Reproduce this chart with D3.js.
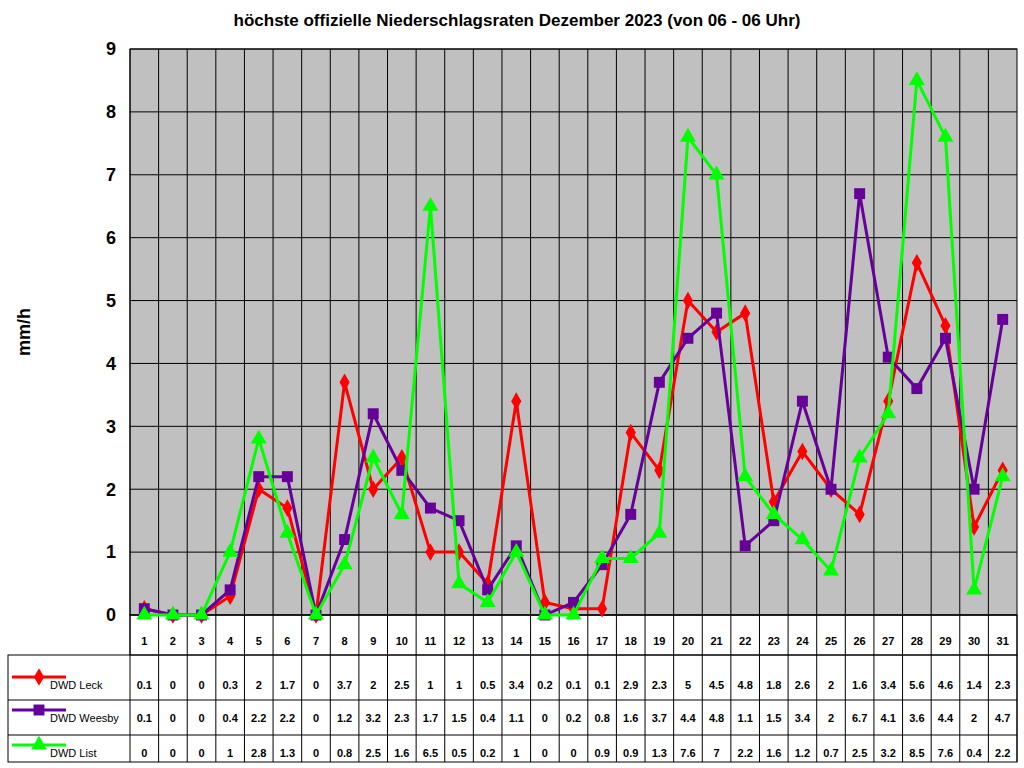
<!DOCTYPE html>
<html><head><meta charset="utf-8">
<script src="https://cdn.jsdelivr.net/npm/d3@7"></script>
<style>body{margin:0;background:#fff}text{font-family:Arial,"Liberation Sans",sans-serif}</style>
</head><body><svg id="chart" width="1024" height="768"></svg>
<script>
const days = d3.range(1, 32);
const leck = [0.1,0,0,0.3,2,1.7,0,3.7,2,2.5,1,1,0.5,3.4,0.2,0.1,0.1,2.9,2.3,5,4.5,4.8,1.8,2.6,2,1.6,3.4,5.6,4.6,1.4,2.3];
const weesby = [0.1,0,0,0.4,2.2,2.2,0,1.2,3.2,2.3,1.7,1.5,0.4,1.1,0,0.2,0.8,1.6,3.7,4.4,4.8,1.1,1.5,3.4,2,6.7,4.1,3.6,4.4,2,4.7];
const list = [0,0,0,1,2.8,1.3,0,0.8,2.5,1.6,6.5,0.5,0.2,1,0,0,0.9,0.9,1.3,7.6,7,2.2,1.6,1.2,0.7,2.5,3.2,8.5,7.6,0.4,2.2];
const yTicks = d3.range(0, 10);

const series = [
  {name: "DWD Leck", values: leck, color: "#ff0000", sym: d3.symbolDiamond, size: 90},
  {name: "DWD Weesby", values: weesby, color: "#660099", sym: d3.symbolSquare, size: 120},
  {name: "DWD List", values: list, color: "#00ff00", sym: d3.symbolTriangle, size: 110}
];

const svg = d3.select("#chart");
const L = 130, R = 1017, T = 49, B = 615;
const x = d3.scaleBand().domain(days).range([L, R]);
const y = d3.scaleLinear().domain([0, 9]).range([B, T]);

svg.append("text").attr("x", 517).attr("y", 26).attr("text-anchor", "middle")
  .attr("font-size", 17).attr("font-weight", "bold")
  .text("höchste offizielle Niederschlagsraten Dezember 2023 (von 06 - 06 Uhr)");

svg.append("rect").attr("x", L).attr("y", T).attr("width", R - L).attr("height", B - T)
  .attr("fill", "#c0c0c0").attr("stroke", "#000");

// grid
svg.append("g").selectAll("line").data(yTicks).enter().append("line")
  .attr("x1", L).attr("x2", R).attr("y1", d => y(d)).attr("y2", d => y(d)).attr("stroke", "#000");
svg.append("g").selectAll("line").data(days).enter().append("line")
  .attr("x1", d => x(d)).attr("x2", d => x(d)).attr("y1", T).attr("y2", B).attr("stroke", "#000");

svg.append("g").selectAll("text").data(yTicks).enter().append("text")
  .attr("x", 116).attr("y", d => y(d)).attr("dy", "0.35em").attr("text-anchor", "end")
  .attr("font-size", 18).attr("font-weight", "bold").text(d => d);

svg.append("text").attr("transform", "translate(30,332) rotate(-90)").attr("text-anchor", "middle")
  .attr("font-size", 18).attr("font-weight", "bold").text("mm/h");

// table
const tg = svg.append("g");
tg.append("rect").attr("x", L).attr("y", 615).attr("width", R - L).attr("height", 40).attr("fill", "none").attr("stroke", "#000");
tg.append("rect").attr("x", 8).attr("y", 655).attr("width", R - 8).attr("height", 107).attr("fill", "none").attr("stroke", "#000");
[700, 735].forEach(v => tg.append("line").attr("x1", 8).attr("x2", R).attr("y1", v).attr("y2", v).attr("stroke", "#000"));
tg.selectAll(".vl").data(days.concat([32])).enter().append("line")
  .attr("x1", d => d === 32 ? R : x(d)).attr("x2", d => d === 32 ? R : x(d))
  .attr("y1", 615).attr("y2", 762).attr("stroke", "#000");
tg.selectAll(".dn").data(days).enter().append("text")
  .attr("x", d => x(d) + x.bandwidth() / 2).attr("y", 645).attr("text-anchor", "middle")
  .attr("font-size", 11).attr("font-weight", "bold").text(d => d);

const textY = [689, 722, 757];
series.forEach((s, i) => {
  tg.selectAll(".v" + i).data(s.values).enter().append("text")
    .attr("x", (d, j) => x(days[j]) + x.bandwidth() / 2).attr("y", textY[i]).attr("text-anchor", "middle")
    .attr("font-size", 11).attr("font-weight", "bold").text(d => d);
  const ly = textY[i] - 12;
  tg.append("line").attr("x1", 12).attr("x2", 66).attr("y1", ly).attr("y2", ly)
    .attr("stroke", s.color).attr("stroke-width", 3);
  tg.append("path").attr("d", d3.symbol(s.sym, s.size)).attr("transform", `translate(39,${ly})`).attr("fill", s.color);
  tg.append("text").attr("x", 50).attr("y", textY[i]).attr("font-size", 11).text(s.name);
});

// lines
const line = d3.line().x((d, j) => x(days[j]) + x.bandwidth() / 2).y(d => y(d));
series.forEach(s => {
  svg.append("path").datum(s.values).attr("d", line).attr("fill", "none")
    .attr("stroke", s.color).attr("stroke-width", 3);
  svg.append("g").selectAll("path").data(s.values).enter().append("path")
    .attr("d", d3.symbol(s.sym, s.size))
    .attr("transform", (d, j) => `translate(${x(days[j]) + x.bandwidth() / 2},${y(d)})`)
    .attr("fill", s.color);
});
</script></body></html>
